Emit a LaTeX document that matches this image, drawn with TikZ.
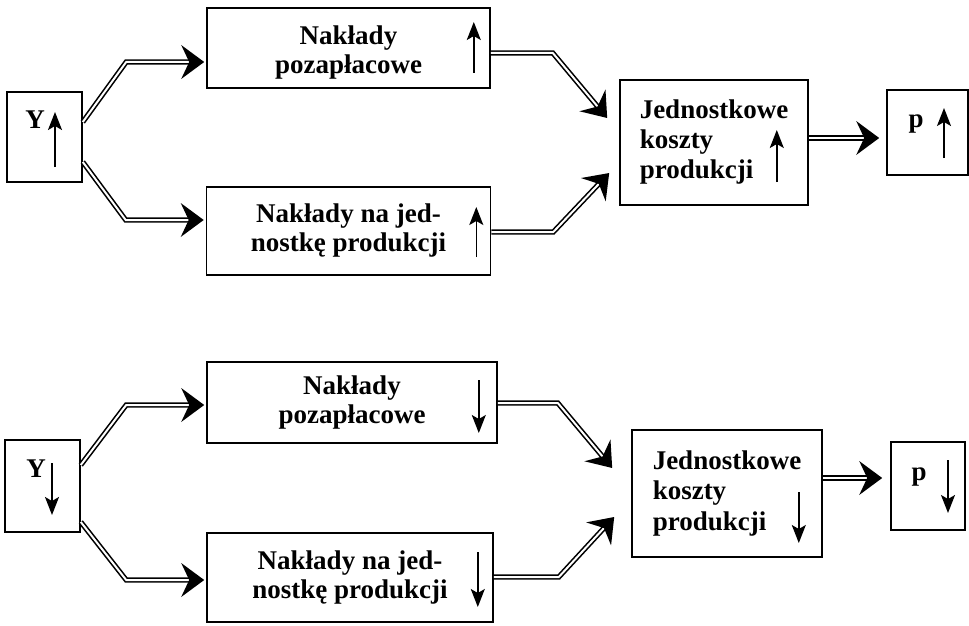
\documentclass[tikz,border=0pt]{standalone}
\usepackage{fontspec}
\setmainfont{Liberation Serif}
\usetikzlibrary{arrows.meta,calc,positioning,decorations.markings}

\begin{document}
\begin{tikzpicture}[x=1pt, y=-1pt,
    box/.style={rectangle, draw, line width=1.6pt, align=center, inner sep=0pt, font=\fontsize{27}{29}\selectfont\bfseries},
    letter/.style={box, font=\fontsize{27}{27}\selectfont\bfseries},
    dbl/.style={double, double distance=2pt, line width=1.6pt, shorten >=14pt,
        postaction={decorate, decoration={markings, mark=at position 1 with {\fill[shorten >=0pt] (0pt,0pt) -- (-23pt,17pt) -- (-15pt,0pt) -- (-23pt,-17pt) -- cycle;}}}},
    trend/.style={line width=1.5pt, -{Stealth[length=18pt,width=14pt,inset=4pt]}}]
    \useasboundingbox (0,0) rectangle (969,626);

    \node [letter, minimum width=75pt, minimum height=90pt] (y1) at (44.5,137) {\smash{\raisebox{9pt}{Y}}\hspace*{19pt}};
    \node [box, minimum width=283pt, minimum height=80pt] (np1) at (348.5,48) {\rule{0pt}{28pt}Nakłady\\pozapłacowe};
    \node [box, below of=np1, node distance=183pt, minimum width=284pt, minimum height=88pt] (nj1) {Nakłady na jed-\\nostkę produkcji};
    \node [box, align=left, font=\fontsize{27}{30}\selectfont\bfseries, minimum width=188pt, minimum height=125pt] (jk1) at (714,142.5) {Jednostkowe\\koszty\\produkcji};
    \node [letter, minimum width=81pt, minimum height=85pt] (p1) at (927.5,132.5) {\smash{\raisebox{5pt}{p}}\hspace*{23pt}};

    \node [letter, minimum width=75pt, minimum height=92pt] (y2) at (42.5,486) {\smash{\raisebox{9pt}{Y}}\hspace*{13pt}};
    \node [box, minimum width=290pt, minimum height=81pt] (np2) at (352,402.5) {Nakłady\\pozapłacowe};
    \node [box, minimum width=286pt, minimum height=89pt] (nj2) at (350,577.5) {Nakłady na jed-\\nostkę produkcji};
    \node [box, align=left, font=\fontsize{27}{30.5}\selectfont\bfseries, minimum width=190pt, minimum height=127pt] (jk2) at (727,493.5) {Jednostkowe\\koszty\\produkcji};
    \node [letter, minimum width=74pt, minimum height=88pt] (p2) at (928,486) {\smash{\raisebox{6pt}{p}}\hspace*{18pt}};

    \draw [dbl] ($(y1.east)+(0,-15)$) -- ($(np1.west)+(-80,14)$) -- ($(np1.west)+(-2,14)$);
    \draw [dbl] ($(y1.east)+(0,25)$) -- ($(nj1.west)+(-80,-11)$) -- ($(nj1.west)+(-2,-11)$);
    \draw [dbl] ($(np1.east)+(0,5)$) -- ($(np1.east)+(62,5)$) -- ($(jk1.west)+(-12,-24.5)$);
    \draw [dbl] ($(nj1.east)+(0,1)$) -- ($(nj1.east)+(62,1)$) -- ($(jk1.west)+(-10,30.5)$);
    \draw [dbl] ($(jk1.east)+(0,-4.5)$) -- ($(p1.west)+(-7,5.5)$);

    \draw [dbl] ($(y2.east)+(0,-21)$) -- ($(np2.west)+(-80,2.5)$) -- ($(np2.west)+(-2,2.5)$);
    \draw [dbl] ($(y2.east)+(0,36)$) -- ($(nj2.west)+(-80,2.5)$) -- ($(nj2.west)+(-2,2.5)$);
    \draw [dbl] ($(np2.east)+(0,0.5)$) -- ($(np2.east)+(60,0.5)$) -- ($(jk2.west)+(-19,-25.5)$);
    \draw [dbl] ($(nj2.east)+(0,-0.5)$) -- ($(nj2.east)+(65,-0.5)$) -- ($(jk2.west)+(-17,23.5)$);
    \draw [dbl] ($(jk2.east)+(0,-15.5)$) -- ($(p2.west)+(-8,-8)$);

    \draw [trend] ($(y1)+(10.5,30)$) -- ++(0,-55);
    \draw [trend] ($(np1.east)+(-17,25)$) -- ++(0,-51);
    \draw [trend] ($(nj1.east)+(-15,26)$) -- ++(0,-50);
    \draw [trend] ($(jk1.east)+(-32,39.5)$) -- ++(0,-52);
    \draw [trend] ($(p1)+(16.5,25.5)$) -- ++(0,-50);
    \draw [trend] ($(y2)+(9.5,-23)$) -- ++(0,52);
    \draw [trend] ($(np2.east)+(-19,-22.5)$) -- ++(0,53);
    \draw [trend] ($(nj2.east)+(-16,-25.5)$) -- ++(0,55);
    \draw [trend] ($(jk2.east)+(-24,-1.5)$) -- ++(0,51);
    \draw [trend] ($(p2)+(20,-26)$) -- ++(0,53);
\end{tikzpicture}
\end{document}
